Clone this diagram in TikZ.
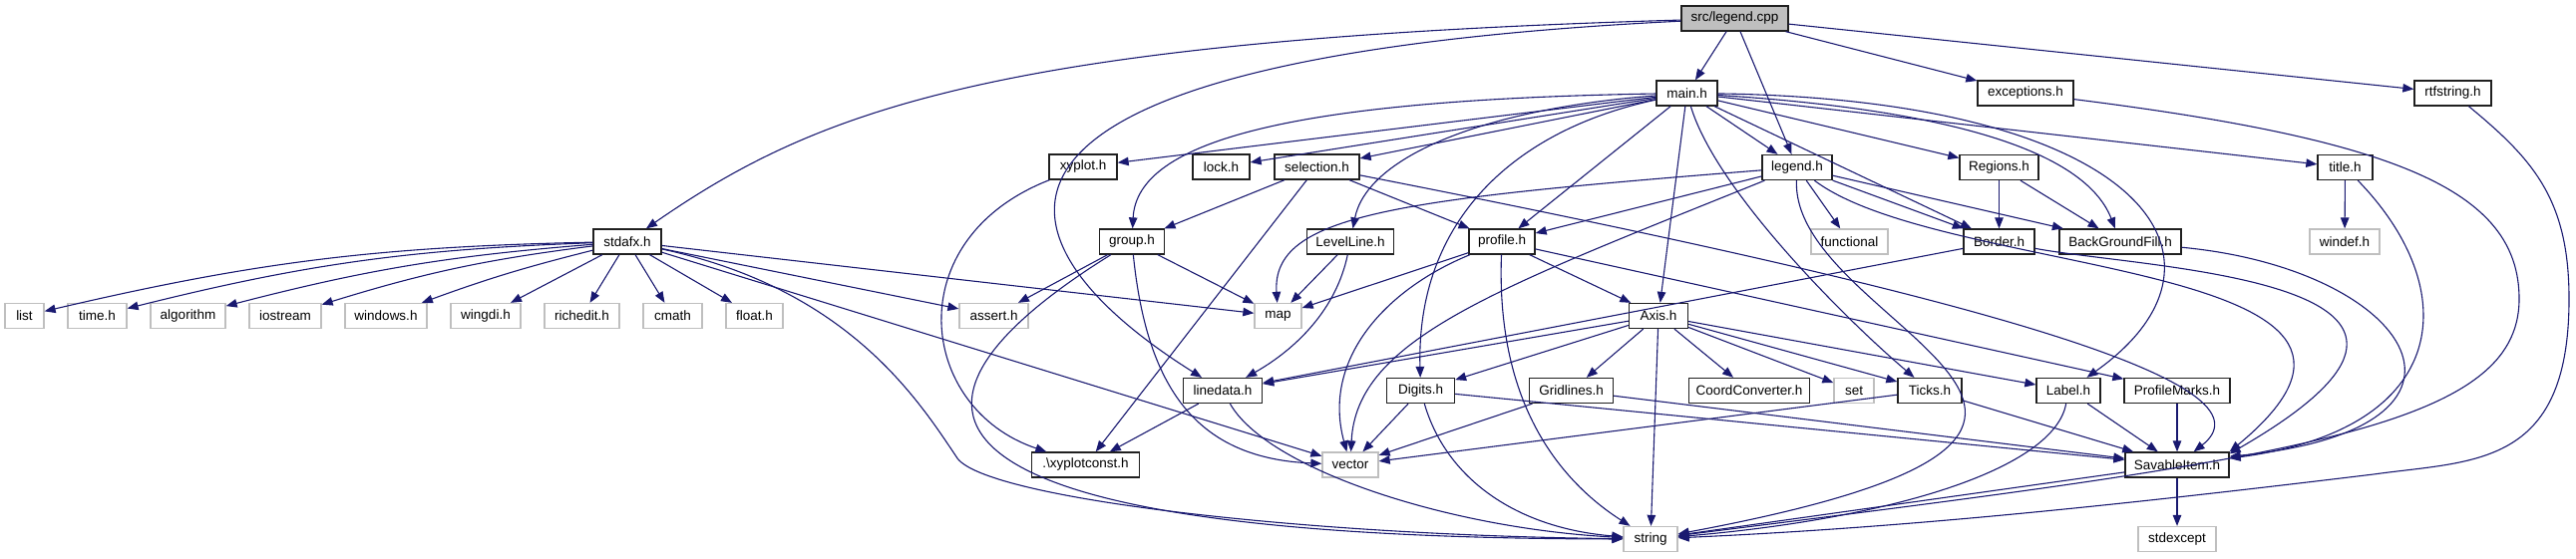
\documentclass[tikz,border=0pt]{standalone}
\usepackage{fontspec}
\setmainfont{Liberation Sans}
\usepackage{xcolor}
\usepackage{tikz}
\usetikzlibrary{arrows.meta}
\definecolor{dox-edge}{HTML}{191970}
\definecolor{dox-frame}{HTML}{202020}
\definecolor{dox-gray}{HTML}{BFBFBF}

\begin{document}
\begin{tikzpicture}[
		x=1pt, y=-1pt,
		incl/.style={
			draw=dox-frame, fill=white,
			line width=1.3pt,
			minimum height=25pt,
			inner sep=0pt,
			font=\fontsize{13.5}{16}\selectfont
		},
		sysincl/.style={
			incl, draw=dox-gray
		},
		srcfile/.style={
			incl, fill=dox-gray
		},
		dep/.style={
			draw=dox-edge, line width=1.1pt,
			-{Triangle[length=11pt,width=8.5pt]}
		}
		]
		
		\useasboundingbox (0,0) rectangle (2583,560);
		
		% the source file
		\node[srcfile, minimum width=107pt] (cpp) at (1739.5,18.5) {src/legend.cpp};
		
		% second row
		\node[incl, minimum width=61pt] (mainh) at (1691.5,93.5) {main.h};
		\node[incl, minimum width=96pt] (exceptions) at (2031,93.5) {exceptions.h};
		\node[incl, minimum width=77pt] (rtfstring) at (2459.5,93.5) {rtfstring.h};
		
		% third row
		\node[incl, minimum width=68pt] (xyplot) at (1086,167.5) {xyplot.h};
		\node[incl, minimum width=57pt] (lock) at (1224.5,167.5) {lock.h};
		\node[incl, minimum width=85pt] (selection) at (1320.5,167.5) {selection.h};
		\node[incl, minimum width=70pt] (legendh) at (1802,168) {legend.h};
		\node[incl, minimum width=79pt] (regions) at (2004.5,168) {Regions.h};
		\node[incl, minimum width=55pt] (title) at (2351.5,168) {title.h};
		
		% fourth row
		\node[incl, minimum width=68pt] (stdafx) at (629,242.5) {stdafx.h};
		\node[incl, minimum width=65pt] (group) at (1135,242.5) {group.h};
		\node[incl, minimum width=87pt] (levelline) at (1354,242.5) {LevelLine.h};
		\node[incl, minimum width=66pt] (profile) at (1506,242.5) {profile.h};
		\node[sysincl, minimum width=77pt] (functional) at (1854.5,242.5) {functional};
		\node[incl, minimum width=71pt] (border) at (2004.5,242.5) {Border.h};
		\node[incl, minimum width=122pt] (bgfill) at (2126,242.5) {BackGroundFill.h};
		\node[sysincl, minimum width=70pt] (windef) at (2351,242.5) {windef.h};
		
		% fifth row - system headers
		\node[sysincl, minimum width=39pt] (list) at (24.5,317) {list};
		\node[sysincl, minimum width=59pt] (timeh) at (97.5,317) {time.h};
		\node[sysincl, minimum width=75pt] (algorithm) at (188.5,317) {algorithm};
		\node[sysincl, minimum width=72pt] (iostream) at (286,317) {iostream};
		\node[sysincl, minimum width=82pt] (windows) at (387,317) {windows.h};
		\node[sysincl, minimum width=70pt] (wingdi) at (487,317) {wingdi.h};
		\node[sysincl, minimum width=75pt] (richedit) at (583.5,317) {richedit.h};
		\node[sysincl, minimum width=59pt] (cmath) at (674.5,317) {cmath};
		\node[sysincl, minimum width=57pt] (floath) at (756.5,317) {float.h};
		\node[sysincl, minimum width=69pt] (assert) at (996.5,317) {assert.h};
		\node[sysincl, minimum width=47pt] (map) at (1281.5,317) {map};
		\node[incl, minimum width=59pt] (axis) at (1663,317) {Axis.h};
		
		% sixth row
		\node[incl, minimum width=79pt] (linedata) at (1226,392) {linedata.h};
		\node[incl, minimum width=68pt] (digits) at (1424.5,392) {Digits.h};
		\node[incl, minimum width=84pt] (gridlines) at (1575.5,392) {Gridlines.h};
		\node[incl, minimum width=121pt] (coordconv) at (1754,392) {CoordConverter.h};
		\node[sysincl, minimum width=40pt] (set) at (1859,392) {set};
		\node[incl, minimum width=64pt] (ticks) at (1935,392) {Ticks.h};
		\node[incl, minimum width=64pt] (label) at (2074,392) {Label.h};
		\node[incl, minimum width=106pt] (profilemarks) at (2183,392) {ProfileMarks.h};
		
		% seventh row
		\node[incl, minimum width=108pt] (xyconst) at (1088.5,466.5) {.\textbackslash xyplotconst.h};
		\node[sysincl, minimum width=56pt] (vector) at (1354,466.5) {vector};
		\node[incl, minimum width=104pt] (savable) at (2183,466.5) {SavableItem.h};
		
		% last row
		\node[sysincl, minimum width=54pt] (string) at (1655,541) {string};
		\node[sysincl, minimum width=78pt] (stdexcept) at (2183,541) {stdexcept};
		
		% src/legend.cpp
		\draw[dep] (cpp) .. controls (1000,40) and (820,110) .. (stdafx);
		\draw[dep] (cpp) .. controls (900,60) and (1000,250) .. (linedata);
		\draw[dep] (cpp) -- (mainh);
		\draw[dep] (cpp) -- (legendh);
		\draw[dep] (cpp) -- (exceptions);
		\draw[dep] (cpp) -- (rtfstring);
		
		% stdafx.h
		\draw[dep] (stdafx) to[bend right=6] (list);
		\draw[dep] (stdafx) to[bend right=6] (timeh);
		\draw[dep] (stdafx) to[bend right=5] (algorithm);
		\draw[dep] (stdafx) to[bend right=5] (iostream);
		\draw[dep] (stdafx) to[bend right=3] (windows);
		\draw[dep] (stdafx) -- (wingdi);
		\draw[dep] (stdafx) -- (richedit);
		\draw[dep] (stdafx) -- (cmath);
		\draw[dep] (stdafx) -- (floath);
		\draw[dep] (stdafx) -- (assert);
		\draw[dep] (stdafx) -- (map);
		\draw[dep] (stdafx) -- (vector);
		\draw[dep] (stdafx) .. controls (850,290) and (920,400) .. (960,460)
			.. controls (990,500) and (1300,537) .. (string);
		
		% main.h
		\draw[dep] (mainh) -- (xyplot);
		\draw[dep] (mainh) -- (lock);
		\draw[dep] (mainh) -- (selection);
		\draw[dep] (mainh) .. controls (1300,100) and (1140,140) .. (group);
		\draw[dep] (mainh) .. controls (1480,110) and (1370,160) .. (levelline);
		\draw[dep] (mainh) -- (profile);
		\draw[dep] (mainh) .. controls (1520,130) and (1420,220) .. (digits);
		\draw[dep] (mainh) -- (axis);
		\draw[dep] (mainh) .. controls (1720,190) and (1850,320) .. (ticks);
		\draw[dep] (mainh) -- (legendh);
		\draw[dep] (mainh) -- (regions);
		\draw[dep] (mainh) -- (border);
		\draw[dep] (mainh) .. controls (1950,110) and (2090,150) .. (bgfill);
		\draw[dep] (mainh) -- (title);
		\draw[dep] (mainh) .. controls (2150,100) and (2260,260) .. (label);
		
		% legend.h
		\draw[dep] (legendh) .. controls (1400,200) and (1275,215) .. (map);
		\draw[dep] (legendh) -- (profile);
		\draw[dep] (legendh) .. controls (1500,290) and (1360,340) .. (vector);
		\draw[dep] (legendh) -- (functional);
		\draw[dep] (legendh) -- (border);
		\draw[dep] (legendh) -- (bgfill);
		\draw[dep] (legendh) .. controls (1950,280) and (2470,260) .. (savable.north east);
		\draw[dep] (legendh) .. controls (1795,330) and (2250,430) .. (string);
		
		% selection.h, xyplot.h, group.h
		\draw[dep] (selection) -- (group);
		\draw[dep] (selection) -- (xyconst);
		\draw[dep] (selection) -- (profile);
		\draw[dep] (selection) .. controls (2050,310) and (2280,390) .. (savable);
		\draw[dep] (xyplot) .. controls (900,240) and (920,410) .. (xyconst);
		\draw[dep] (group) -- (assert);
		\draw[dep] (group) -- (map);
		\draw[dep] (group) .. controls (1150,390) and (1200,460) .. (vector);
		\draw[dep] (group) .. controls (850,420) and (930,540) .. (string);
		
		% LevelLine.h, profile.h
		\draw[dep] (levelline) -- (map);
		\draw[dep] (levelline) .. controls (1340,310) and (1300,350) .. (linedata);
		\draw[dep] (profile) -- (map);
		\draw[dep] (profile) .. controls (1390,290) and (1325,360) .. (vector);
		\draw[dep] (profile) .. controls (1500,400) and (1560,480) .. (string);
		\draw[dep] (profile) -- (axis);
		\draw[dep] (profile) -- (profilemarks);
		
		% Axis.h
		\draw[dep] (axis) -- (linedata);
		\draw[dep] (axis) -- (digits);
		\draw[dep] (axis) -- (gridlines);
		\draw[dep] (axis) -- (coordconv);
		\draw[dep] (axis) -- (set);
		\draw[dep] (axis) -- (ticks);
		\draw[dep] (axis) -- (label);
		\draw[dep] (axis) -- (string);
		
		% linedata.h, Digits.h, Gridlines.h, Ticks.h
		\draw[dep] (linedata) -- (xyconst);
		\draw[dep] (linedata) .. controls (1270,470) and (1450,530) .. (string);
		\draw[dep] (digits) -- (vector);
		\draw[dep] (digits) .. controls (1450,480) and (1520,530) .. (string);
		\draw[dep] (digits) -- (savable);
		\draw[dep] (gridlines) -- (vector);
		\draw[dep] (gridlines) -- (savable);
		\draw[dep] (ticks) -- (vector);
		\draw[dep] (ticks) -- (savable);
		
		% Label.h, ProfileMarks.h
		\draw[dep] (label) -- (savable);
		\draw[dep] (label) .. controls (2060,470) and (1900,520) .. (string);
		\draw[dep] (profilemarks) -- (savable);
		
		% Regions.h, Border.h, BackGroundFill.h, title.h
		\draw[dep] (regions) -- (border);
		\draw[dep] (regions) -- (bgfill);
		\draw[dep] (border) -- (linedata);
		\draw[dep] (border) .. controls (2150,270) and (2540,280) .. (savable.12);
		\draw[dep] (bgfill) .. controls (2420,270) and (2520,430) .. (savable.9);
		\draw[dep] (title) -- (windef);
		\draw[dep] (title) .. controls (2470,290) and (2460,430) .. (savable.7);
		
		% exceptions.h, rtfstring.h
		\draw[dep] (exceptions) .. controls (2400,140) and (2526,190) .. (2526,300)
			.. controls (2526,430) and (2300,460) .. (string);
		\draw[dep] (rtfstring) .. controls (2540,160) and (2576,200) .. (2576,300)
			.. controls (2576,470) and (2480,462) .. (2380,476)
			.. controls (2100,510) and (1900,530) .. (string);
		
		% SavableItem.h
		\draw[dep] (savable) -- (string);
		\draw[dep] (savable) -- (stdexcept);
		
	\end{tikzpicture}
\end{document}
